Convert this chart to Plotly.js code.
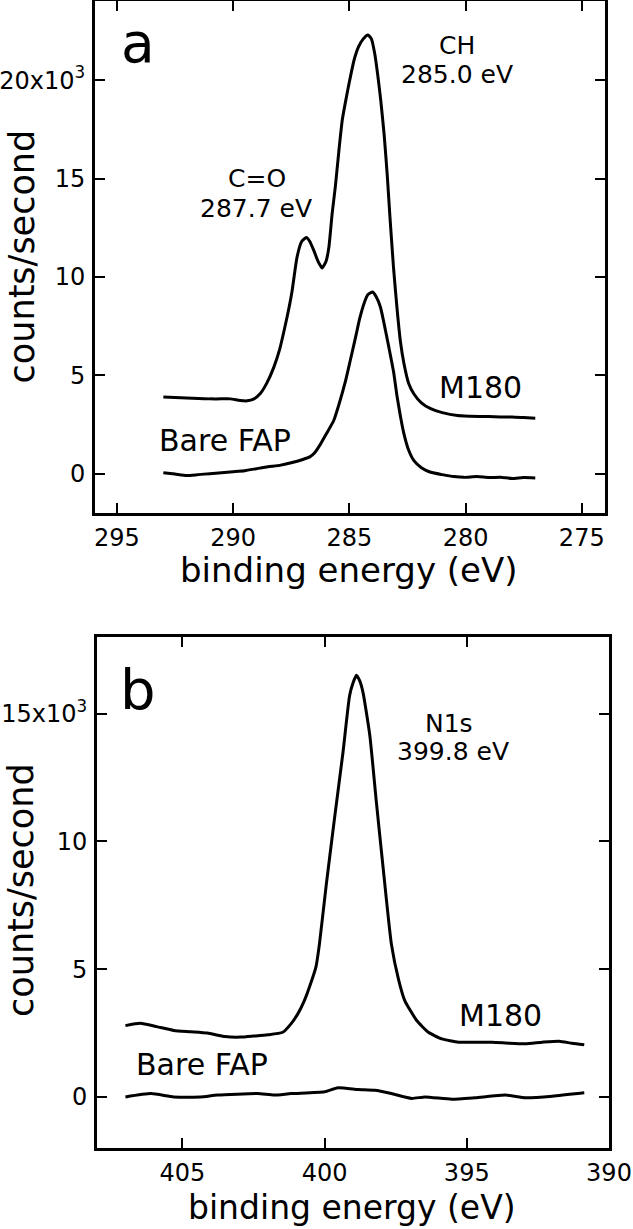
<!DOCTYPE html>
<html>
<head>
<meta charset="utf-8">
<script src="https://cdn.plot.ly/plotly-3.0.1.min.js"></script>
<style>html,body{margin:0;padding:0;background:#fff;}</style>
</head>
<body>
<div id="chart" style="width:633px;height:1229px;"></div>
<script>
// Panel a: C1s region (binding energy in eV, counts/second in units of 10^3)
const c1sM180X = [293.0,292.5,292.0,291.5,291.0,290.5,290.12,289.7,289.4,289.1,288.83,288.55,288.25,288.0,287.8,287.6,287.46,287.25,287.05,286.85,286.7,286.53,286.35,286.17,286.0,285.88,285.74,285.6,285.45,285.3,285.1,285.0,284.8,284.6,284.4,284.2,284.05,283.9,283.75,283.65,283.5,283.37,283.25,283.1,282.94,282.8,282.65,282.45,282.22,281.9,281.5,281.0,280.35,279.8,279.0,278.5,278.0,277.5,277.0];
const c1sM180Y = [3.9,3.87,3.85,3.82,3.8,3.8,3.8,3.72,3.7,3.8,4.07,4.6,5.4,6.3,7.3,8.4,9.3,11.0,11.8,12.0,11.8,11.35,10.8,10.45,10.8,11.5,13.2,14.6,16.4,18.0,19.3,19.9,21.0,21.7,22.1,22.3,22.1,21.3,20.0,19.0,17.2,15.2,13.0,10.5,8.3,6.7,5.6,4.6,4.05,3.6,3.3,3.1,2.95,2.92,2.9,2.88,2.88,2.85,2.82];
const c1sBareX = [293.0,292.5,292.0,291.5,291.0,290.5,290.0,289.5,289.0,288.5,288.0,287.5,287.0,286.7,286.5,286.24,286.0,285.67,285.45,285.16,284.95,284.73,284.55,284.37,284.2,284.0,283.85,283.66,283.5,283.3,283.1,282.94,282.8,282.65,282.45,282.22,281.9,281.5,281.0,280.5,280.07,279.5,279.0,278.5,278.0,277.5,277.0];
const c1sBareY = [0.05,-0.02,-0.1,-0.05,0.0,0.05,0.1,0.15,0.25,0.35,0.42,0.55,0.72,0.85,1.05,1.5,2.0,2.7,3.5,4.73,5.8,6.94,7.9,8.64,9.1,9.23,9.0,8.46,7.6,6.43,5.2,3.88,2.9,2.02,1.2,0.66,0.3,0.07,-0.05,-0.15,-0.19,-0.15,-0.2,-0.18,-0.25,-0.2,-0.22];

// Panel b: N1s region
const n1sM180X = [407.0,406.48,405.9,405.3,404.7,404.12,403.5,402.95,402.5,402.0,401.47,401.18,400.94,400.71,400.5,400.3,400.18,399.94,399.65,399.35,399.12,399.0,398.88,398.77,398.65,398.41,398.18,397.94,397.65,397.4,397.18,396.76,396.35,395.88,395.29,394.7,394.11,393.5,392.94,392.35,391.76,391.3,390.87];
const n1sM180Y = [2.79,2.88,2.75,2.6,2.55,2.5,2.36,2.34,2.38,2.43,2.53,2.86,3.25,3.77,4.4,5.1,5.98,8.3,10.9,13.5,15.7,16.2,16.5,16.3,15.84,14.16,11.56,8.96,5.98,4.6,3.77,2.99,2.53,2.27,2.14,2.14,2.14,2.1,2.08,2.14,2.18,2.1,2.04];
const n1sBareX = [407.0,406.1,405.3,404.36,403.77,402.36,401.77,401.18,400.0,399.53,398.82,398.23,397.65,396.94,396.47,395.53,394.7,393.64,392.94,391.99,390.87];
const n1sBareY = [0.0,0.13,0.0,0.0,0.07,0.13,0.07,0.13,0.2,0.36,0.29,0.26,0.13,-0.06,0.0,-0.09,-0.03,0.07,-0.03,0.03,0.16];

// Ticks
const xTicksA = [295,290,285,280,275];
const xTicksB = [405,400,395,390];
const yTicksA = [0,5,10,15,20];
const yTickTextA = ["0","5","10","15","20x10<sup>3</sup>"];
const yTicksB = [0,5,10,15];
const yTickTextB = ["0","5","10","15x10<sup>3</sup>"];

const FONT = "DejaVu Sans, Liberation Sans, Arial, sans-serif";
const lineStyle = {color:"#000", width:3, shape:"spline", smoothing:0.5};

const traces = [
  {x:c1sM180X, y:c1sM180Y, xaxis:"x", yaxis:"y", mode:"lines", line:lineStyle, name:"M180"},
  {x:c1sBareX, y:c1sBareY, xaxis:"x", yaxis:"y", mode:"lines", line:lineStyle, name:"Bare FAP"},
  {x:n1sM180X, y:n1sM180Y, xaxis:"x2", yaxis:"y2", mode:"lines", line:lineStyle, name:"M180"},
  {x:n1sBareX, y:n1sBareY, xaxis:"x2", yaxis:"y2", mode:"lines", line:lineStyle, name:"Bare FAP"}
];

function xax(domain, range, ticks, anchor){
  return {domain:domain, range:range, anchor:anchor, tickmode:"array", tickvals:ticks,
    ticks:"inside", ticklen:10, tickwidth:2, tickcolor:"#000",
    showline:true, linewidth:3, linecolor:"#000", mirror:"ticks",
    showgrid:false, zeroline:false, automargin:false,
    tickfont:{family:FONT, size:24, color:"#000"}, ticklabelstandoff:1};
}
function yax(domain, range, ticks, text, anchor){
  return {domain:domain, range:range, anchor:anchor, tickmode:"array", tickvals:ticks, ticktext:text,
    ticks:"inside", ticklen:10, tickwidth:2, tickcolor:"#000",
    showline:true, linewidth:3, linecolor:"#000", mirror:"ticks",
    showgrid:false, zeroline:false, automargin:false,
    tickfont:{family:FONT, size:24, color:"#000"}, ticklabelstandoff:2};
}

function ann(text, x, y, size, xref, yref, extra){
  return Object.assign({text:text, x:x, y:y, xref:xref, yref:yref, showarrow:false,
    xanchor:"center", yanchor:"middle", font:{family:FONT, size:size, color:"#000"}}, extra||{});
}

const layout = {
  width:633, height:1229,
  margin:{l:0, r:0, t:0, b:0},
  paper_bgcolor:"#fff", plot_bgcolor:"#fff",
  showlegend:false,
  font:{family:FONT, color:"#000"},
  xaxis: xax([0.1501,0.9558],[295.94,274.0],xTicksA,"y"),
  yaxis: yax([0.5826,0.9988],[-2,24],yTicksA,yTickTextA,"x"),
  xaxis2: xax([0.1532,0.9621],[408,390],xTicksB,"y2"),
  yaxis2: yax([0.0659,0.4817],[-2,18],yTicksB,yTickTextB,"x2"),
  annotations:[
    ann("a", 294.09, 21.9, 55, "x", "y"),
    ann("CH", 280.35, 21.78, 25, "x", "y"),
    ann("285.0 eV", 280.38, 20.31, 25, "x", "y"),
    ann("C=O", 288.97, 14.98, 25, "x", "y"),
    ann("287.7 eV", 289.0, 13.48, 25, "x", "y"),
    ann("M180", 279.37, 4.39, 30, "x", "y"),
    ann("Bare FAP", 290.34, 1.68, 30, "x", "y"),
    ann("b", 406.55, 15.96, 56, "x2", "y2"),
    ann("N1s", 395.63, 14.60, 25, "x2", "y2"),
    ann("399.8 eV", 395.49, 13.50, 25, "x2", "y2"),
    ann("M180", 393.8, 3.18, 30, "x2", "y2"),
    ann("Bare FAP", 404.3, 1.27, 30, "x2", "y2"),
    ann("counts/second", 0.0340, 0.7910, 35, "paper", "paper", {textangle:-90}),
    ann("counts/second", 0.0340, 0.2755, 35, "paper", "paper", {textangle:-90}),
    ann("binding energy (eV)", 0.5517, 0.5362, 34, "paper", "paper"),
    ann("binding energy (eV)", 0.556, 0.0172, 33, "paper", "paper")
  ]
};

Plotly.newPlot("chart", traces, layout, {staticPlot:true, displayModeBar:false});
</script>
</body>
</html>
